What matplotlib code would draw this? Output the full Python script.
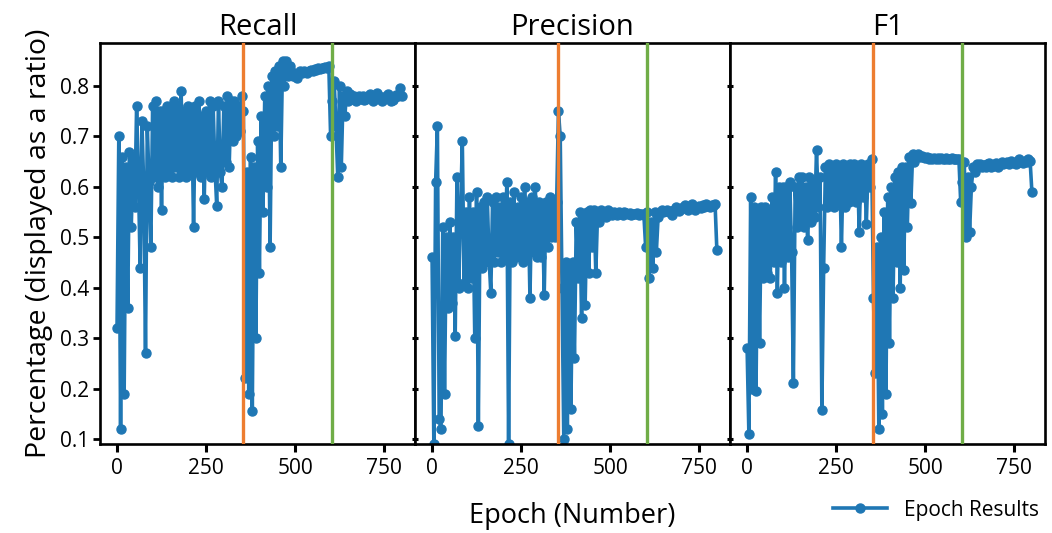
import numpy as np
import matplotlib
matplotlib.use("Agg")
import matplotlib.pyplot as plt

plt.rcParams['font.family'] = ['Open Sans', 'DejaVu Sans']

# Epoch index (every 5th epoch)
epochs = list(range(0, 805, 5))

recall = [
    0.32, 0.70, 0.12, 0.66, 0.19, 0.64, 0.36, 0.67, 0.52, 0.66,
    0.56, 0.76, 0.62, 0.44, 0.73, 0.60, 0.27, 0.72, 0.61, 0.48,
    0.76, 0.62, 0.77, 0.60, 0.75, 0.555, 0.75, 0.62, 0.76, 0.63,
    0.75, 0.62, 0.77, 0.64, 0.76, 0.62, 0.79, 0.63, 0.75, 0.62,
    0.76, 0.63, 0.75, 0.52, 0.76, 0.63, 0.77, 0.62, 0.74, 0.576,
    0.75, 0.63, 0.77, 0.62, 0.76, 0.64, 0.563, 0.77, 0.63, 0.60,
    0.76, 0.65, 0.78, 0.64, 0.77, 0.69, 0.77, 0.70, 0.76, 0.71,
    0.78, 0.75, 0.22, 0.63, 0.19, 0.66, 0.155, 0.64, 0.30, 0.69,
    0.43, 0.74, 0.55, 0.78, 0.60, 0.80, 0.48, 0.82, 0.70, 0.83,
    0.72, 0.84, 0.64, 0.85, 0.80, 0.85, 0.82, 0.84, 0.83, 0.82,
    0.82, 0.815, 0.825, 0.83, 0.825, 0.83, 0.828, 0.826, 0.83, 0.832,
    0.83, 0.834, 0.832, 0.835, 0.833, 0.836, 0.835, 0.838, 0.836, 0.84,
    0.70, 0.77, 0.81, 0.72, 0.62, 0.80, 0.64, 0.78, 0.74, 0.79,
    0.77, 0.785, 0.775, 0.78, 0.77, 0.775, 0.78, 0.775, 0.78, 0.772,
    0.775, 0.78, 0.785, 0.778, 0.77, 0.775, 0.786, 0.78, 0.775, 0.77,
    0.775, 0.78, 0.785, 0.776, 0.77, 0.772, 0.778, 0.782, 0.78, 0.796,
    0.78,
]

precision = [
    0.46, 0.09, 0.61, 0.72, 0.14, 0.12, 0.52, 0.19, 0.50, 0.36,
    0.53, 0.37, 0.50, 0.305, 0.62, 0.40, 0.55, 0.69, 0.41, 0.55,
    0.40, 0.58, 0.42, 0.55, 0.30, 0.59, 0.125, 0.56, 0.44, 0.57,
    0.45, 0.58, 0.46, 0.39, 0.57, 0.45, 0.58, 0.47, 0.56, 0.45,
    0.58, 0.46, 0.61, 0.09, 0.57, 0.45, 0.59, 0.46, 0.56, 0.47,
    0.58, 0.45, 0.60, 0.46, 0.57, 0.38, 0.58, 0.47, 0.60, 0.46,
    0.57, 0.46, 0.56, 0.385, 0.57, 0.48, 0.58, 0.50, 0.57, 0.50,
    0.57, 0.75, 0.70, 0.40, 0.10, 0.45, 0.12, 0.44, 0.16, 0.45,
    0.26, 0.53, 0.42, 0.55, 0.34, 0.54, 0.365, 0.55, 0.43, 0.555,
    0.48, 0.555, 0.43, 0.55, 0.53, 0.555, 0.545, 0.55, 0.54, 0.555,
    0.55, 0.545, 0.55, 0.548, 0.545, 0.55, 0.547, 0.545, 0.55, 0.548,
    0.546, 0.548, 0.545, 0.547, 0.546, 0.548, 0.545, 0.547, 0.546, 0.545,
    0.48, 0.55, 0.42, 0.53, 0.44, 0.55, 0.47, 0.54, 0.55, 0.555,
    0.55, 0.552, 0.555, 0.55, 0.553, 0.545, 0.555, 0.56, 0.555, 0.552,
    0.556, 0.56, 0.565, 0.558, 0.555, 0.56, 0.566, 0.56, 0.555, 0.56,
    0.562, 0.558, 0.565, 0.56, 0.566, 0.562, 0.56, 0.565, 0.562, 0.566,
    0.475,
]

f1 = [
    0.28, 0.11, 0.58, 0.20, 0.56, 0.195, 0.55, 0.29, 0.56, 0.42,
    0.56, 0.43, 0.55, 0.42, 0.58, 0.45, 0.63, 0.39, 0.60, 0.45,
    0.60, 0.40, 0.60, 0.46, 0.61, 0.47, 0.21, 0.60, 0.52, 0.62,
    0.53, 0.62, 0.52, 0.60, 0.495, 0.62, 0.53, 0.61, 0.54, 0.673,
    0.56, 0.62, 0.158, 0.44, 0.64, 0.56, 0.645, 0.57, 0.64, 0.56,
    0.645, 0.57, 0.64, 0.48, 0.645, 0.56, 0.64, 0.57, 0.645, 0.58,
    0.645, 0.57, 0.64, 0.51, 0.645, 0.58, 0.64, 0.527, 0.645, 0.60,
    0.655, 0.38, 0.23, 0.48, 0.12, 0.50, 0.15, 0.55, 0.19, 0.58,
    0.29, 0.60, 0.38, 0.62, 0.45, 0.63, 0.40, 0.64, 0.436, 0.64,
    0.52, 0.66, 0.567, 0.665, 0.65, 0.66, 0.665, 0.66, 0.662, 0.66,
    0.658, 0.66, 0.655, 0.658, 0.656, 0.657, 0.655, 0.658, 0.656, 0.657,
    0.656, 0.655, 0.657, 0.656, 0.655, 0.657, 0.656, 0.655, 0.656, 0.655,
    0.57, 0.61, 0.65, 0.50, 0.62, 0.51, 0.60, 0.64, 0.63, 0.645,
    0.64, 0.645, 0.64, 0.643, 0.64, 0.645, 0.648, 0.64, 0.642, 0.645,
    0.648, 0.64, 0.645, 0.65, 0.645, 0.648, 0.65, 0.645, 0.652, 0.65,
    0.648, 0.645, 0.65, 0.655, 0.65, 0.648, 0.652, 0.65, 0.655, 0.652,
    0.59,
]

titles = ["Recall", "Precision", "F1"]
series = [recall, precision, f1]
phase_lines = [355, 605]
phase_colors = ["#ED7D31", "#70AD47"]
xticks = [0, 250, 500, 750]
yticks = [0.1, 0.2, 0.3, 0.4, 0.5, 0.6, 0.7, 0.8]

fig = plt.figure(figsize=(10.52, 5.33), dpi=100)
fig.subplots_adjust(left=0.095, right=0.9934, top=0.919, bottom=0.167, wspace=0)
axes = fig.subplots(1, 3, sharey=True)

for i, (ax, title, vals) in enumerate(zip(axes, titles, series)):
    line, = ax.plot(epochs, vals, color="#1f77b4", marker="o", markersize=6.5,
                    linewidth=2.6, label="Epoch Results", zorder=2)
    for xv, c in zip(phase_lines, phase_colors):
        ax.axvline(xv, color=c, linewidth=2.4, zorder=3)
    ax.set_title(title, fontsize=21, pad=6)
    ax.set_xlim(-48, 837)
    ax.set_ylim(0.09, 0.885)
    ax.set_xticks(xticks)
    ax.set_yticks(yticks)
    for s in ax.spines.values():
        s.set_linewidth(1.9)
        s.set_color("black")
    ax.tick_params(axis='x', direction='out', length=6, width=2.2, labelsize=15, pad=4)
    if i == 0:
        ax.tick_params(axis='y', direction='out', length=5, width=2.0, labelsize=15, pad=3)
        ax.set_yticklabels([f"{v:.1f}" for v in yticks])
    else:
        ax.tick_params(axis='y', direction='inout', length=4, width=2.2, labelleft=False)

axes[0].set_ylabel("Percentage (displayed as a ratio)", fontsize=20.5, labelpad=5)
axes[1].set_xlabel("Epoch (Number)", fontsize=19.5, labelpad=17)

fig.legend(handles=[line], labels=["Epoch Results"], loc="lower right",
           bbox_to_anchor=(1.005, -0.012), frameon=False, fontsize=15,
           handlelength=2.6)

fig.savefig("out.png", dpi=100)
